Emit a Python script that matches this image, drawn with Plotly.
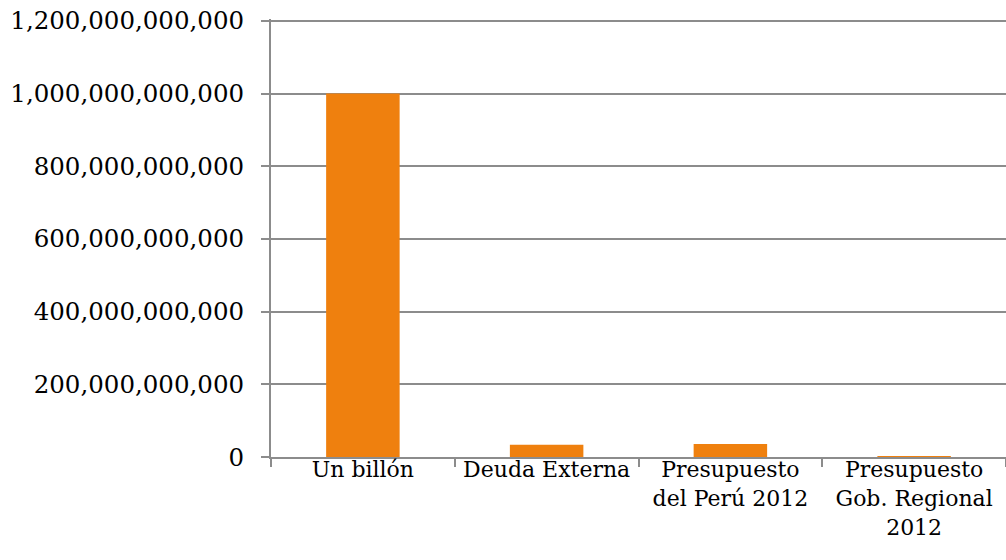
import plotly.graph_objects as go

categories = ["Un billón", "Deuda Externa", "Presupuesto<br>del Perú 2012", "Presupuesto<br>Gob. Regional<br>2012"]
values = [1000000000000, 34000000000, 35500000000, 100000000]
y_ticks = [0, 200000000000, 400000000000, 600000000000, 800000000000, 1000000000000, 1200000000000]

GRID = "#8c8c8c"
FONT = "Georgia, 'DejaVu Serif', serif"

fig = go.Figure(go.Bar(x=categories, y=values, marker=dict(color="#EF800E", line=dict(width=0))))

fig.update_layout(
    width=1006, height=560,
    margin=dict(l=271, r=0, t=19, b=103),
    plot_bgcolor="white", paper_bgcolor="white",
    bargap=0.6,
    showlegend=False,
    font=dict(family=FONT, size=23, color="black"),
)
fig.update_yaxes(
    range=[0, 1205000000000], tickvals=y_ticks, tickformat=",.0f",
    showgrid=True, gridcolor=GRID, gridwidth=2,
    showline=True, linecolor=GRID, linewidth=2,
    ticks="outside", ticklen=8, tickcolor=GRID, tickwidth=2,
    zeroline=False, ticklabelstandoff=12, automargin=False,
    ticklabeloverflow="allow",
    tickfont=dict(family=FONT, size=24.5, color="black"),
)
fig.update_xaxes(
    type="category", tickson="boundaries",
    showline=True, linecolor=GRID, linewidth=2,
    ticks="outside", ticklen=8, tickcolor=GRID, tickwidth=2,
    showgrid=False, tickangle=0, ticklabelstandoff=-8, automargin=False,
    ticklabeloverflow="allow",
    tickfont=dict(family=FONT, size=22, color="black"),
)

fig.write_html("out.html", config={"displayModeBar": False},
               post_script="document.body.style.margin='0';")
